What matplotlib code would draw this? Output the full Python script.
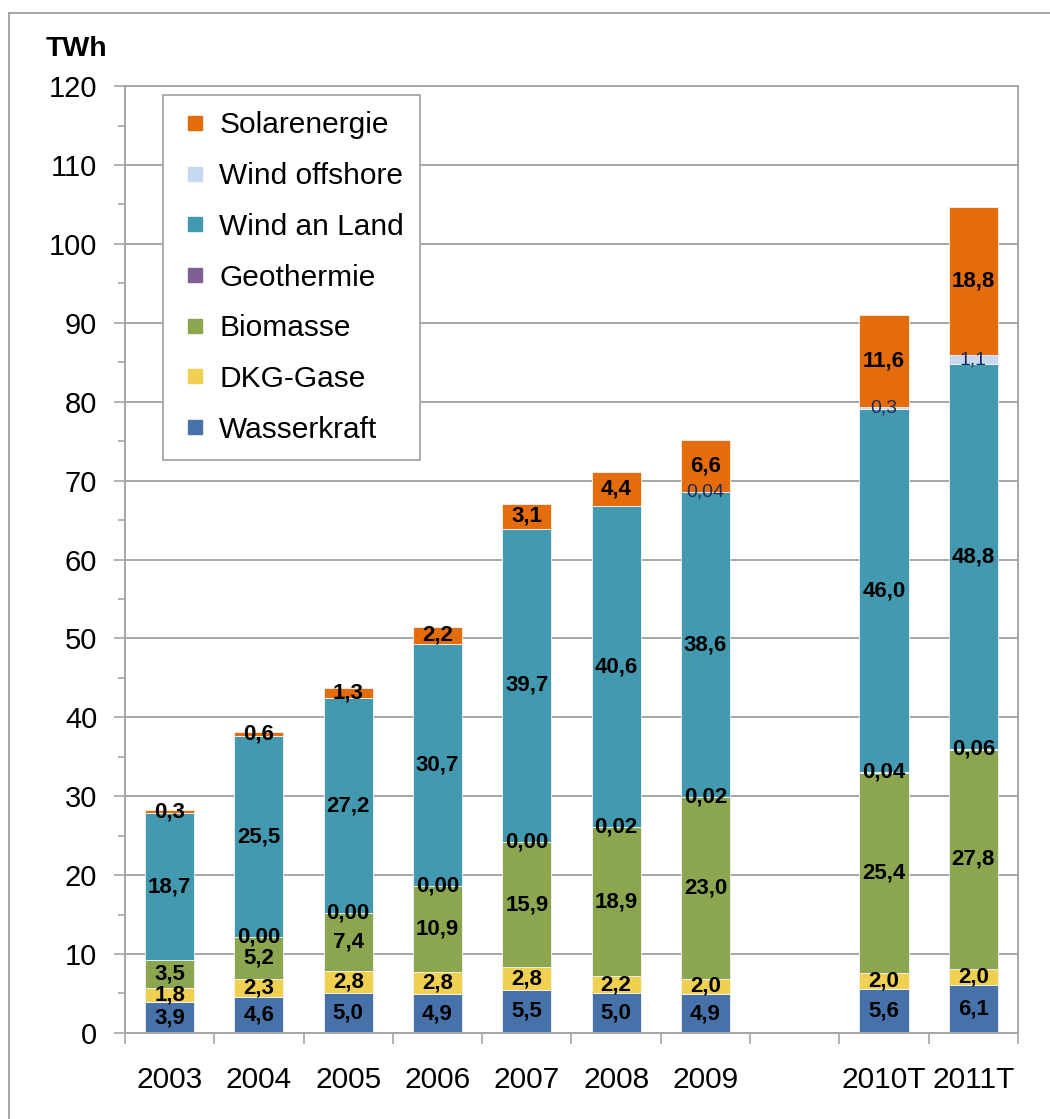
import numpy as np
import matplotlib
matplotlib.use('Agg')
import matplotlib.pyplot as plt
from matplotlib.lines import Line2D
from matplotlib.patches import Rectangle
from matplotlib.ticker import MultipleLocator, FixedLocator

plt.rcParams['font.family'] = ['Liberation Sans', 'DejaVu Sans']

# Data (TWh)
years = ['2003', '2004', '2005', '2006', '2007', '2008', '2009', '2010T', '2011T']
wasserkraft = [3.9, 4.6, 5.0, 4.9, 5.5, 5.0, 4.9, 5.6, 6.1]
dkg_gase = [1.8, 2.3, 2.8, 2.8, 2.8, 2.2, 2.0, 2.0, 2.0]
biomasse = [3.5, 5.2, 7.4, 10.9, 15.9, 18.9, 23.0, 25.4, 27.8]
geothermie = [np.nan, 0.00, 0.00, 0.00, 0.00, 0.02, 0.02, 0.04, 0.06]
wind_land = [18.7, 25.5, 27.2, 30.7, 39.7, 40.6, 38.6, 46.0, 48.8]
wind_offshore = [np.nan, np.nan, np.nan, np.nan, np.nan, np.nan, 0.04, 0.3, 1.1]
solar = [0.3, 0.6, 1.3, 2.2, 3.1, 4.4, 6.6, 11.6, 18.8]

series = [
    ('Wasserkraft', wasserkraft, '#4671A9'),
    ('DKG-Gase', dkg_gase, '#F0D050'),
    ('Biomasse', biomasse, '#8BA64F'),
    ('Geothermie', geothermie, '#7F6096'),
    ('Wind an Land', wind_land, '#4299B0'),
    ('Wind offshore', wind_offshore, '#C6D9F1'),
    ('Solarenergie', solar, '#E46C0A'),
]

# x positions: empty slot between 2009 and 2010T
x = np.arange(len(years), dtype=float)
x[7:] += 1

fig = plt.figure(figsize=(10.5, 11.19), dpi=100)
ax = fig.add_axes([0.119, 0.0769, 0.8505, 0.8462])

grey = '#A6A6A6'
bottom = np.zeros(len(years))
for name, vals, col in series:
    v = np.nan_to_num(np.array(vals, dtype=float))
    ax.bar(x, v, width=0.55, bottom=bottom, color=col, edgecolor='#F4F4F4',
           linewidth=0.6, zorder=2, label=name)
    for xi, b, raw in zip(x, bottom, vals):
        if np.isnan(raw):
            continue
        if name == 'Geothermie' or raw < 0.1:
            txt = f'{raw:.2f}'.replace('.', ',')
        else:
            txt = f'{raw:.1f}'.replace('.', ',')
        if name == 'Wind offshore':
            ax.text(xi, b + raw / 2, txt, ha='center', va='center', fontsize=14,
                    color='#1F2A5A', zorder=3)
        else:
            ax.text(xi, b + raw / 2, txt, ha='center', va='center', fontsize=16,
                    fontweight='bold', color='black', zorder=3)
    bottom += v

ax.set_ylim(0, 120)
ax.set_xlim(-0.5, 9.5)
ax.yaxis.set_major_locator(MultipleLocator(10))
ax.yaxis.set_minor_locator(MultipleLocator(5))
ax.grid(axis='y', which='major', color=grey, linewidth=1.4, zorder=0)
ax.set_axisbelow(True)

ax.set_xticks(x)
ax.set_xticklabels(years)
ax.xaxis.set_minor_locator(FixedLocator(np.arange(-0.5, 10, 1)))
ax.tick_params(axis='x', which='major', length=0, pad=24, labelsize=21.5)
ax.tick_params(axis='x', which='minor', length=8, width=1.2, color=grey, direction='out')
ax.tick_params(axis='y', which='major', length=8, width=1.2, color=grey, pad=12, labelsize=21)
ax.tick_params(axis='y', which='minor', length=5, width=1.2, color=grey)

for s in ax.spines.values():
    s.set_color(grey)
    s.set_linewidth(1.4)

fig.text(0.073, 0.956, 'TWh', fontsize=20.5, fontweight='bold', ha='center', va='center')

# Legend (reverse order, square markers)
handles = [Line2D([], [], marker='s', linestyle='none', markersize=10,
                  markerfacecolor=col, markeredgecolor=col, label=name)
           for name, vals, col in reversed(series)]
leg = ax.legend(handles=handles, loc='upper left', bbox_to_anchor=(0.0426, 0.9905),
                borderaxespad=0, fontsize=21.5, frameon=True, fancybox=False,
                labelspacing=0.76, handlelength=1.05, handletextpad=0.28,
                borderpad=0.55, edgecolor=grey, framealpha=1)
leg.get_frame().set_linewidth(1.3)

# outer chart border
fig.patches.append(Rectangle((0.0086, -0.1), 1.2, 1.1 - 0.012, transform=fig.transFigure,
                             fill=False, edgecolor=grey, linewidth=1.4))

fig.savefig('out.png', dpi=100)
